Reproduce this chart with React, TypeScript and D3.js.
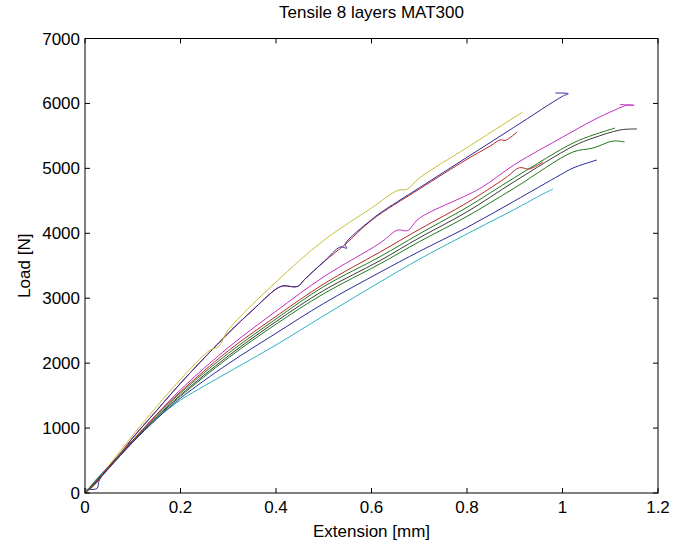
import React from "react";
import * as d3 from "d3";

// ---- Data (Extension [mm], Load [N]) ----
const blue1: [number, number][] = [
  [0, 60], [0.025, 70], [0.03, 200], [0.05, 390], [0.08, 650], [0.1, 850], [0.15, 1270],
  [0.2, 1690], [0.3, 2460], [0.35, 2810], [0.4, 3140], [0.415, 3190], [0.445, 3180], [0.46, 3290],
  [0.5, 3560], [0.535, 3790], [0.548, 3770], [0.545, 3830], [0.6, 4210], [0.618, 4312],
  [0.7, 4700], [0.8, 5170], [0.9, 5640], [1.0, 6110], [1.012, 6150], [0.985, 6160],
];
const green1: [number, number][] = [
  [0, 0], [0.02, 150], [0.05, 400], [0.1, 800], [0.15, 1190], [0.2, 1540], [0.3, 2150],
  [0.4, 2680], [0.5, 3180], [0.618, 3640], [0.7, 3990], [0.8, 4400], [0.9, 4860],
  [1.022, 5390], [1.064, 5513], [1.11, 5620],
];
const red1: [number, number][] = [
  [0, 0], [0.02, 160], [0.05, 400], [0.1, 850], [0.15, 1270], [0.2, 1690], [0.3, 2460],
  [0.35, 2810], [0.4, 3140], [0.415, 3190], [0.445, 3180], [0.46, 3290], [0.5, 3560],
  [0.545, 3830], [0.6, 4200], [0.7, 4680], [0.8, 5140], [0.85, 5350], [0.87, 5440],
  [0.88, 5430], [0.905, 5560],
];
const cyan: [number, number][] = [
  [0, 0], [0.02, 180], [0.05, 420], [0.1, 810], [0.15, 1150], [0.2, 1430], [0.25, 1650],
  [0.3, 1860], [0.4, 2280], [0.5, 2730], [0.618, 3250], [0.7, 3600], [0.8, 3990],
  [0.9, 4370], [0.95, 4570], [0.98, 4682],
];
const magenta: [number, number][] = [
  [0, 0], [0.02, 140], [0.05, 400], [0.1, 810], [0.15, 1210], [0.2, 1590], [0.3, 2240],
  [0.4, 2800], [0.5, 3330], [0.618, 3850], [0.655, 4050], [0.675, 4040], [0.7, 4230],
  [0.827, 4690], [0.9, 5060], [1.0, 5480], [1.064, 5740], [1.11, 5900], [1.137, 5976],
  [1.15, 5970], [1.12, 5985],
];
const yellow: [number, number][] = [
  [0, 0], [0.02, 120], [0.05, 420], [0.1, 890], [0.15, 1330], [0.2, 1750], [0.26, 2190],
  [0.28, 2260], [0.3, 2510], [0.4, 3250], [0.5, 3890], [0.6, 4390], [0.655, 4660],
  [0.675, 4680], [0.7, 4850], [0.8, 5320], [0.917, 5870],
];
const black: [number, number][] = [
  [0, 0], [0.02, 130], [0.05, 390], [0.1, 790], [0.15, 1170], [0.2, 1510], [0.3, 2110],
  [0.4, 2640], [0.5, 3120], [0.618, 3580], [0.7, 3930], [0.8, 4330], [0.9, 4800],
  [1.022, 5340], [1.064, 5467], [1.12, 5590], [1.145, 5606], [1.156, 5606],
];
const blue2: [number, number][] = [
  [0, 0], [0.02, 140], [0.05, 380], [0.1, 780], [0.15, 1140], [0.2, 1460], [0.3, 1990],
  [0.4, 2460], [0.5, 2920], [0.618, 3400], [0.7, 3720], [0.8, 4090], [0.9, 4500],
  [0.995, 4898], [1.022, 5005], [1.072, 5129],
];
const green2: [number, number][] = [
  [0, 0], [0.02, 170], [0.05, 410], [0.1, 800], [0.15, 1160], [0.2, 1490], [0.3, 2080],
  [0.4, 2600], [0.5, 3070], [0.618, 3530], [0.7, 3870], [0.8, 4260], [0.9, 4700],
  [1.022, 5252], [1.064, 5313], [1.106, 5421], [1.13, 5406],
];
const red2: [number, number][] = [
  [0, 0], [0.02, 150], [0.05, 410], [0.1, 810], [0.15, 1210], [0.2, 1560], [0.3, 2190],
  [0.4, 2720], [0.5, 3220], [0.618, 3712], [0.7, 4060], [0.8, 4470], [0.88, 4850],
  [0.91, 5010], [0.93, 4990], [0.959, 5100],
];

// drawing order (red1 under blue1 where they overlap)
const seriesList = [red1, blue1, green1, cyan, magenta, yellow, black, blue2, green2, red2];
const seriesColors = [
  "#b82828", "#2a2a9a", "#1f7a1f", "#2fb0c0", "#c030c0",
  "#c8c038", "#3a3a3a", "#2a2a9a", "#1f7a1f", "#b82828",
];

const xTicks = [0, 0.2, 0.4, 0.6, 0.8, 1, 1.2];
const yTicks = [0, 1000, 2000, 3000, 4000, 5000, 6000, 7000];

const titleText = "Tensile 8 layers MAT300";
const xLabel = "Extension [mm]";
const yLabel = "Load [N]";

export default function App() {
  const W = 674;
  const H = 544;
  const left = 85, right = 658, top = 38.5, bottom = 493;
  const x = d3.scaleLinear().domain([0, 1.2]).range([left, right]);
  const y = d3.scaleLinear().domain([0, 7000]).range([bottom, top]);
  const line = d3
    .line<[number, number]>()
    .x((d) => x(d[0]))
    .y((d) => y(d[1]))
    .curve(d3.curveCatmullRom.alpha(0.5));
  const font = "'Liberation Sans', Arial, sans-serif";
  const tl = 5;

  return (
    <svg
      width={W}
      height={H}
      style={{ position: "absolute", left: 0, top: 0, background: "#fff" }}
      fontFamily={font}
    >
      <rect x={0} y={0} width={W} height={H} fill="#fff" />
      <rect x={left} y={top} width={right - left} height={bottom - top} fill="#fff" />
      {seriesList.map((s, i) => (
        <path key={i} d={line(s) || ""} fill="none" stroke={seriesColors[i]} strokeWidth={1} />
      ))}
      <rect x={left} y={top} width={right - left} height={bottom - top} fill="none" stroke="#000" strokeWidth={1} />
      {xTicks.map((t) => (
        <g key={"x" + t}>
          <line x1={x(t)} x2={x(t)} y1={bottom} y2={bottom - tl} stroke="#000" />
          <line x1={x(t)} x2={x(t)} y1={top} y2={top + tl} stroke="#000" />
          <text x={x(t)} y={bottom + 20} textAnchor="middle" fontSize={17} fill="#000">
            {String(t)}
          </text>
        </g>
      ))}
      {yTicks.map((t) => (
        <g key={"y" + t}>
          <line x1={left} x2={left + tl} y1={y(t)} y2={y(t)} stroke="#000" />
          <line x1={right} x2={right - tl} y1={y(t)} y2={y(t)} stroke="#000" />
          <text x={left - 5} y={y(t) + 6} textAnchor="end" fontSize={17} fill="#000">
            {String(t)}
          </text>
        </g>
      ))}
      <text x={(left + right) / 2} y={18} textAnchor="middle" fontSize={17} fill="#000">
        {titleText}
      </text>
      <text x={(left + right) / 2} y={537} textAnchor="middle" fontSize={17} fill="#000">
        {xLabel}
      </text>
      <text
        transform={`translate(30,${(top + bottom) / 2}) rotate(-90)`}
        textAnchor="middle"
        fontSize={17}
        fill="#000"
      >
        {yLabel}
      </text>
    </svg>
  );
}
